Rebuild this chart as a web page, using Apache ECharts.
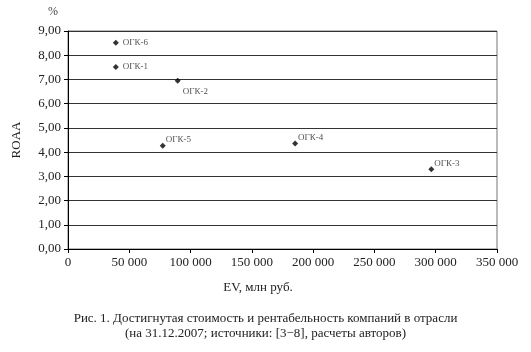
<!DOCTYPE html>
<html>
<head>
<meta charset="utf-8">
<script src="https://cdn.jsdelivr.net/npm/echarts@6/dist/echarts.min.js"></script>
<style>
  html, body { margin: 0; padding: 0; background: #fff; }
  #chart { width: 531px; height: 352px; }
</style>
</head>
<body>
<div id="chart"></div>
<script>
// компании и их значения (EV, млн руб.; ROAA, %)
const companies = ['ОГК-6', 'ОГК-1', 'ОГК-2', 'ОГК-5', 'ОГК-4', 'ОГК-3']
const evValues = [39000, 39000, 89500, 77300, 185300, 296400]
const roaaValues = [8.52, 7.51, 6.95, 4.26, 4.36, 3.29]
const labelPos = ['right', 'right', 'bottomRight', 'topRight', 'topRight', 'topRight']

const font = 'Liberation Serif, DejaVu Serif, serif'
const fmtX = v => v === 0 ? '0' : String(v).replace(/\B(?=(\d{3})+(?!\d))/g, ' ')
const fmtY = v => v.toFixed(2).replace('.', ',')

const chart = echarts.init(document.getElementById('chart'))

const points = companies.map((name, i) => {
  const pos = labelPos[i]
  let offset = [0, 0]
  if (pos === 'bottomRight') offset = [-2, 11]
  if (pos === 'topRight') offset = [-4, -6]
  return {
    name,
    value: [evValues[i], roaaValues[i]],
    label: { position: 'right', offset }
  }
})

const option = {
  animation: false,
  textStyle: { fontFamily: font },
  grid: { left: 68, right: 34, top: 31, bottom: 103 },
  xAxis: {
    type: 'value',
    min: 0,
    max: 350000,
    interval: 50000,
    axisLine: { show: true, lineStyle: { color: '#000', width: 1 } },
    axisTick: { show: true, length: 4, lineStyle: { color: '#000' } },
    axisLabel: { color: '#222', fontSize: 13, fontFamily: font, margin: 7, formatter: fmtX },
    splitLine: { show: false }
  },
  yAxis: {
    type: 'value',
    min: 0,
    max: 9,
    interval: 1,
    name: 'ROAA',
    nameLocation: 'middle',
    nameRotate: 90,
    nameGap: 45,
    nameTextStyle: { color: '#222', fontSize: 13, fontFamily: font },
    axisLine: { show: true, lineStyle: { color: '#000', width: 1 } },
    axisTick: { show: true, length: 4, lineStyle: { color: '#000' } },
    axisLabel: { color: '#222', fontSize: 13, fontFamily: font, margin: 7, formatter: fmtY },
    splitLine: { show: true, lineStyle: { color: '#333', width: 1 } }
  },
  graphic: [
    {
      type: 'rect',
      shape: { x: 68, y: 31, width: 429, height: 218 },
      style: { fill: 'none', stroke: '#777', lineWidth: 1 },
      silent: true,
      z: 0
    },
    {
      type: 'text',
      left: 48,
      top: 6,
      style: { text: '%', fill: '#444', font: '12px ' + font }
    },
    {
      type: 'text',
      x: 258,
      y: 281,
      style: { text: 'EV, млн руб.', fill: '#222', font: '13px ' + font, textAlign: 'center' }
    },
    {
      type: 'text',
      left: 'center',
      top: 311,
      style: {
        text: 'Рис. 1. Достигнутая стоимость и рентабельность компаний в отрасли\n(на 31.12.2007; источники: [3−8], расчеты авторов)',
        fill: '#222',
        font: '13px ' + font,
        textAlign: 'center',
        lineHeight: 15
      }
    }
  ],
  series: [
    {
      type: 'scatter',
      symbol: 'diamond',
      symbolSize: 6,
      itemStyle: { color: '#000' },
      label: {
        show: true,
        formatter: p => p.name,
        color: '#222',
        fontSize: 9,
        fontFamily: font,
        distance: 4
      },
      data: points
    }
  ]
}

chart.setOption(option)
</script>
</body>
</html>
